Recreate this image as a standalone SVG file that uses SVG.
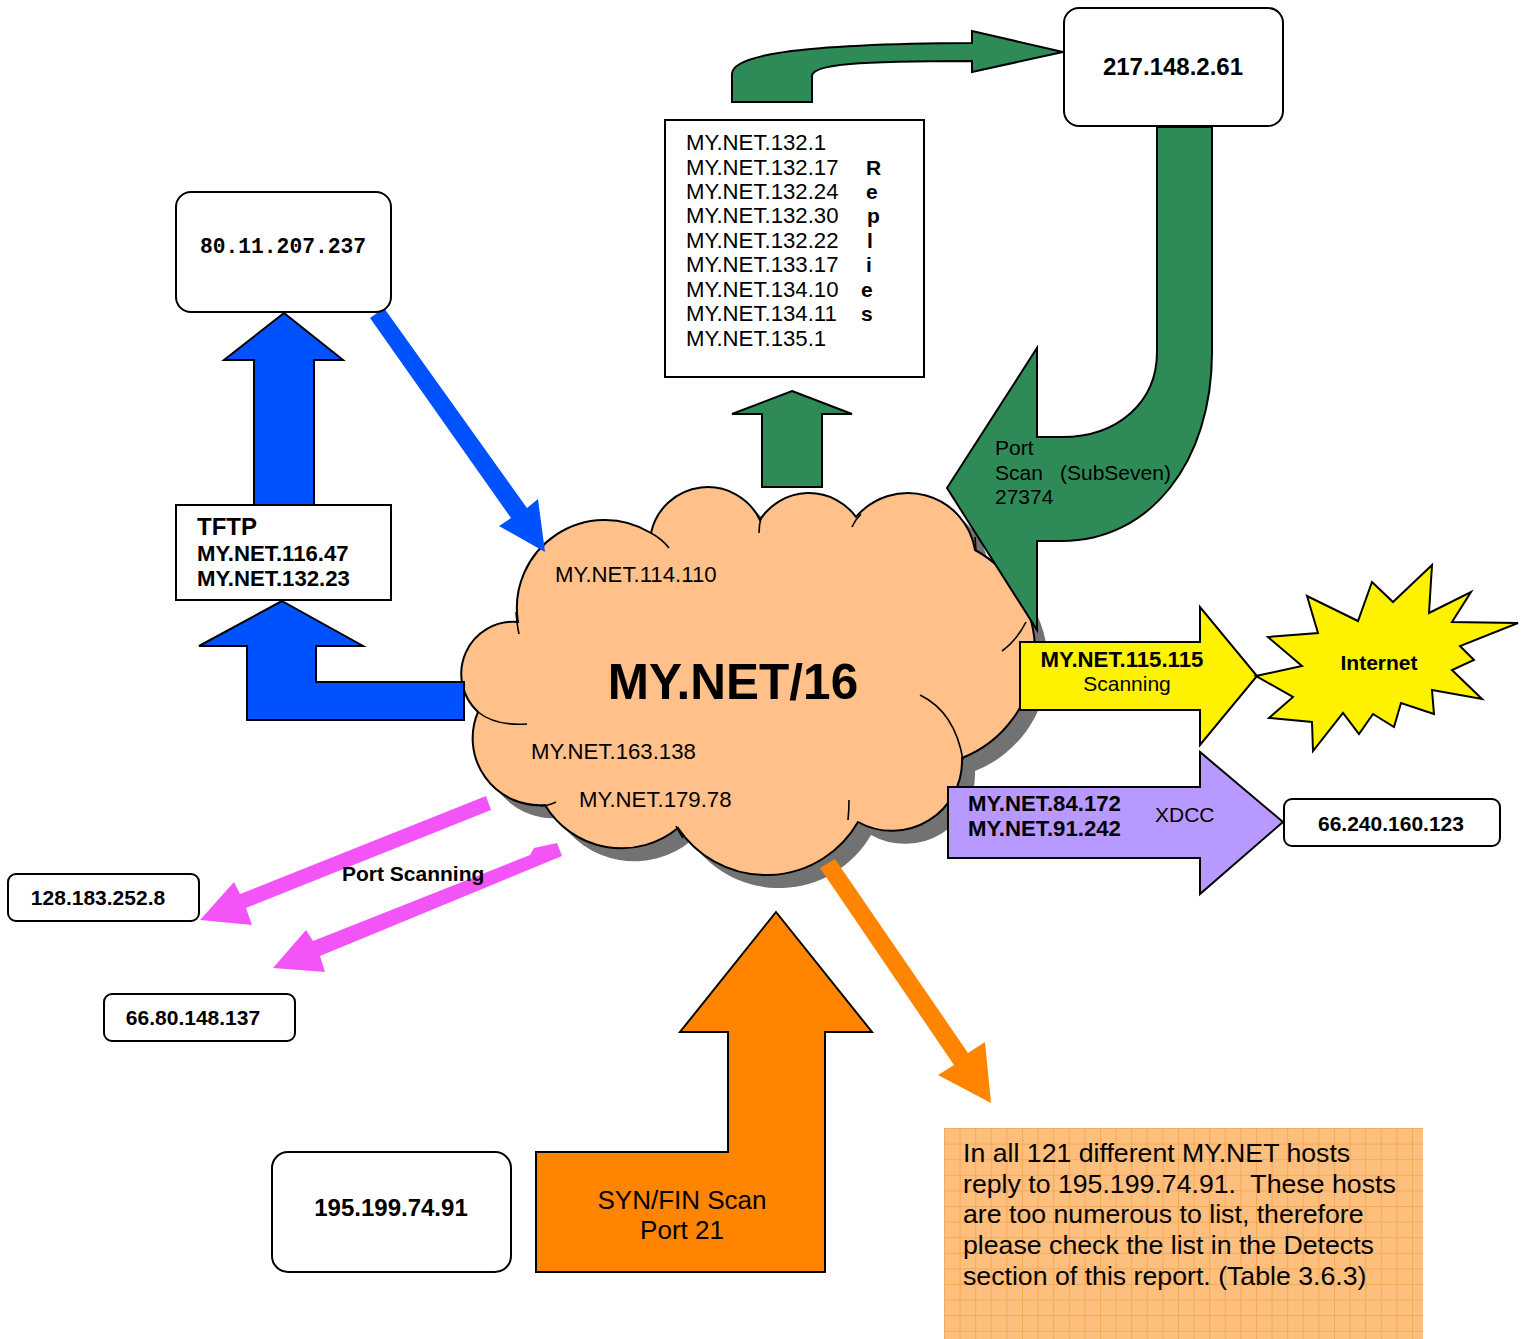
<svg xmlns="http://www.w3.org/2000/svg" width="1527" height="1339" viewBox="0 0 1527 1339">
<style>
text{font-family:"Liberation Sans",Arial,sans-serif;fill:#000}
.b{font-weight:bold}
.r21{font-size:21px}
.mn{font-size:22.2px}
.box{fill:#fff;stroke:#000;stroke-width:2}
.blk{stroke:#000;stroke-width:2;stroke-linejoin:miter}
.green{fill:#2E8B57}
.blue{fill:#0052FF}
.orange{fill:#FF8500}
.pink{fill:#F354F7}
.thin{fill:none;stroke:#000;stroke-width:1.6}
.mid{text-anchor:middle}
.note{font-size:26.7px}
</style>
<defs>
<pattern id="grid" width="15.6" height="15.6" patternUnits="userSpaceOnUse" x="944" y="1128">
<rect width="15.6" height="15.6" fill="#FCBF7E"/>
<path d="M0 0.5H15.6M0.5 0V15.6" stroke="#F5A043" stroke-width="1" opacity="0.7"/>
</pattern>
<path id="cloudPath" d="M518,622 A88,88 0 0 1 651,533 A58,58 0 0 1 760,520 A58,58 0 0 1 856,517 A68,68 0 0 1 975,550 A115,115 0 0 1 962,758 A70,70 0 0 1 858,822 A106,106 0 0 1 678,828 A89,89 0 0 1 545,805 A67,67 0 0 1 478,712 A52,52 0 0 1 518,622 Z"/>
</defs>

<g id="cloud">
<use href="#cloudPath" transform="translate(13,13)" fill="#727272"/>
<use href="#cloudPath" fill="#FFC08A" stroke="#000" stroke-width="2"/>
<path class="thin" d="M478,712 Q495,726 527,724 M516,612 Q517,625 519,634 M651,533 Q662,539 669,548 M761,518 Q759,525 759,533 M852,527 Q855,520 861,514 M975,537 L976,551 M1002,651 Q1017,640 1026,622 M920,695 Q955,712 963,760 M849,800 Q849,810 848,820 M676,826 Q679,832 683,838 M540,806 Q548,806 556,802"/>
<text class="b mid" x="733" y="699" font-size="49.5">MY.NET/16</text>
<text class="mn" x="555" y="582">MY.NET.114.110</text>
<text class="mn" x="531" y="759">MY.NET.163.138</text>
<text class="mn" x="579" y="807">MY.NET.179.78</text>
</g>

<g id="connectors">
<path class="green blk" d="M732,102 L732,74 C732,56 790,44 972,43 L972,31 L1063,52 L972,72 L972,61 C860,61 812,64 812,76 L812,102 Z"/>
<path class="green blk" d="M1157,127 L1212,127 L1212,352 C1212,462 1150,541 1062,541 L1037,541 L1037,630 L947,488 L1037,348 L1037,437 L1062,437 C1118,437 1157,402 1157,352 Z"/>
<text class="r21" x="995" y="455">Port</text>
<text class="r21" x="995" y="480">Scan</text>
<text class="r21" x="1060" y="480">(SubSeven)</text>
<text class="r21" x="995" y="504">27374</text>
<path class="green blk" d="M792,391 L852,414 L822,414 L822,487 L762,487 L762,414 L732,414 Z"/>
<path class="blue blk" d="M284,313 L343,360 L314,360 L314,505 L254,505 L254,360 L224,360 Z"/>
<path class="blue blk" d="M282,601 L363,646 L316,646 L316,682 L464,682 L464,720 L247,720 L247,646 L199,646 Z"/>
<path class="blue" d="M370,318 L384,308 L527,508 L538,499 L545,552 L499,526 L511,518 Z"/>
<path class="pink" d="M486,796 L491,810 L246,908 L252,925 L200,920 L234,882 L240,894 Z"/>
<path class="pink" d="M557,843 L562,856 L320,956 L325,972 L273,968 L306,930 L313,941 L530,855 L534,848 Z"/>
<text class="b r21" x="342" y="881">Port Scanning</text>
<path class="orange" d="M820,868 L835,859 L968,1053 L985,1042 L991,1103 L938,1075 L954,1065 Z"/>
<path class="orange blk" d="M776,912 L872,1032 L825,1032 L825,1272 L536,1272 L536,1152 L728,1152 L728,1032 L680,1032 Z"/>
<text class="mid" x="682" y="1209" font-size="26">SYN/FIN Scan</text>
<text class="mid" x="682" y="1239" font-size="26">Port 21</text>
<path class="blk" fill="#FFF200" d="M1020,642 L1200,642 L1200,607 L1257,676 L1200,745 L1200,710 L1020,710 Z"/>
<text class="b mn mid" x="1122" y="667">MY.NET.115.115</text>
<text class="r21 mid" x="1127" y="691">Scanning</text>
<path class="blk" fill="#B899FF" d="M948,787 L1200,787 L1200,752 L1283,822 L1200,894 L1200,858 L948,858 Z"/>
<text class="b mn" x="968" y="811">MY.NET.84.172</text>
<text class="b mn" x="968" y="836">MY.NET.91.242</text>
<text class="r21" x="1155" y="822">XDCC</text>
</g>

<g id="n217">
<rect class="box" x="1064" y="8" width="219" height="118" rx="15"/>
<text class="b mid" x="1173" y="75" font-size="24">217.148.2.61</text>
</g>

<g id="n80">
<rect class="box" x="176" y="192" width="215" height="120" rx="15"/>
<text class="b mid" x="283" y="253" font-size="21.3" style="font-family:'Liberation Mono','Courier New',monospace">80.11.207.237</text>
</g>

<g id="tftp">
<rect class="box" x="176" y="505" width="215" height="95"/>
<text class="b" x="197" y="535" font-size="24">TFTP</text>
<text class="b mn" x="197" y="561">MY.NET.116.47</text>
<text class="b mn" x="197" y="586">MY.NET.132.23</text>
</g>

<g id="replies">
<rect class="box" x="665" y="120" width="259" height="257"/>
<text class="mn" x="686" y="150">MY.NET.132.1</text>
<text class="mn" x="686" y="175">MY.NET.132.17</text>
<text class="mn" x="686" y="199">MY.NET.132.24</text>
<text class="mn" x="686" y="223">MY.NET.132.30</text>
<text class="mn" x="686" y="248">MY.NET.132.22</text>
<text class="mn" x="686" y="272">MY.NET.133.17</text>
<text class="mn" x="686" y="297">MY.NET.134.10</text>
<text class="mn" x="686" y="321">MY.NET.134.11</text>
<text class="mn" x="686" y="346">MY.NET.135.1</text>
<text class="b r21" x="866" y="175">R</text>
<text class="b r21" x="866" y="199">e</text>
<text class="b r21" x="867" y="223">p</text>
<text class="b r21" x="867" y="248">l</text>
<text class="b r21" x="866" y="272">i</text>
<text class="b r21" x="861" y="297">e</text>
<text class="b r21" x="861" y="321">s</text>
</g>

<g id="internet">
<path class="blk" fill="#FFF200" d="M1432,565 L1429,613 L1471,592 L1452,622 L1518,623 L1460,646 L1474,660 L1452,670 L1482,699 L1432,690 L1434,714 L1401,703 L1394,727 L1373,714 L1359,734 L1343,713 L1313,751 L1312,722 L1269,718 L1293,697 L1256,676 L1302,666 L1268,637 L1318,633 L1307,596 L1358,621 L1372,582 L1393,602 Z"/>
<text class="b r21 mid" x="1379" y="670">Internet</text>
</g>

<g id="n128">
<rect class="box" x="8" y="874" width="191" height="47" rx="8"/>
<text class="b r21 mid" x="98" y="905">128.183.252.8</text>
</g>

<g id="n66_80">
<rect class="box" x="104" y="994" width="191" height="47" rx="8"/>
<text class="b r21 mid" x="193" y="1025">66.80.148.137</text>
</g>

<g id="n195">
<rect class="box" x="272" y="1152" width="239" height="120" rx="16"/>
<text class="b mid" x="391" y="1216" font-size="24">195.199.74.91</text>
</g>

<g id="n66_240">
<rect class="box" x="1284" y="799" width="216" height="47" rx="8"/>
<text class="b r21 mid" x="1391" y="831">66.240.160.123</text>
</g>

<g id="note">
<rect x="944" y="1128" width="479" height="211" fill="url(#grid)"/>
<text class="note" x="963" y="1162">In all 121 different MY.NET hosts</text>
<text class="note" x="963" y="1193">reply to 195.199.74.91.&#160; These hosts</text>
<text class="note" x="963" y="1223">are too numerous to list, therefore</text>
<text class="note" x="963" y="1254">please check the list in the Detects</text>
<text class="note" x="963" y="1285">section of this report. (Table 3.6.3)</text>
</g>
</svg>
